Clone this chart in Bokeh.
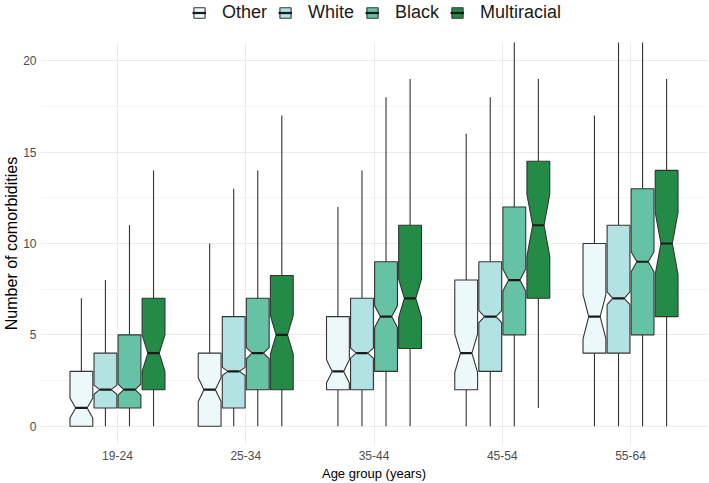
import numpy as np
from bokeh.plotting import figure
from bokeh.layouts import column
from bokeh.models import Range1d, FixedTicker, Legend, LegendItem, CustomJSTickFormatter
from bokeh.embed import file_html
from bokeh.resources import INLINE

# ---------------- data ----------------
age_groups = ["19-24", "25-34", "35-44", "45-54", "55-64"]
races = ["Other", "White", "Black", "Multiracial"]
colors = ["#EDF8FB", "#B2E2E2", "#66C2A4", "#238B45"]

other_lower = [0, 0, 0, 0, 0]
other_q1 = [0, 0, 2, 2, 4]
other_median = [1, 2, 3, 4, 6]
other_q3 = [3, 4, 6, 8, 10]
other_upper = [7, 10, 12, 16, 17]
other_notch = [0.55, 0.65, 0.64, 1.05, 1.2]

white_lower = [0, 0, 0, 0, 0]
white_q1 = [1, 1, 2, 3, 4]
white_median = [2, 3, 4, 6, 7]
white_q3 = [4, 6, 7, 9, 11]
white_upper = [8, 13, 14, 18, 23]
white_notch = [0.25, 0.22, 0.27, 0.33, 0.35]

black_lower = [0, 0, 0, 0, 0]
black_q1 = [1, 2, 3, 5, 5]
black_median = [2, 4, 6, 8, 9]
black_q3 = [5, 7, 9, 12, 13]
black_upper = [11, 14, 18, 22, 24]
black_notch = [0.3, 0.3, 0.6, 0.6, 0.55]

multi_lower = [0, 0, 0, 1, 0]
multi_q1 = [2, 2, 4.25, 7, 6]
multi_median = [4, 5, 7, 11, 10]
multi_q3 = [7, 8.25, 11, 14.5, 14]
multi_upper = [14, 17, 19, 19, 19]
multi_notch = [1.0, 1.05, 1.05, 1.7, 1.7]

y_ticks = [0, 5, 10, 15, 20]
y_minor = [2.5, 7.5, 12.5, 17.5]

series = [
    (other_lower, other_q1, other_median, other_q3, other_upper, other_notch),
    (white_lower, white_q1, white_median, white_q3, white_upper, white_notch),
    (black_lower, black_q1, black_median, black_q3, black_upper, black_notch),
    (multi_lower, multi_q1, multi_median, multi_q3, multi_upper, multi_notch),
]

FONT = "Liberation Sans"
LEGEND_H = 42

# ---------------- main plot ----------------
p = figure(width=709, height=483 - LEGEND_H, output_backend="svg", toolbar_location=None,
           x_range=Range1d(0.4, 5.6), y_range=Range1d(-1, 21),
           min_border_left=38, min_border_right=2, min_border_top=0,
           min_border_bottom=0)
p.outline_line_color = None
p.background_fill_color = "white"

p.xaxis.ticker = FixedTicker(ticks=[1, 2, 3, 4, 5])
p.xaxis.formatter = CustomJSTickFormatter(
    args=dict(labels=age_groups),
    code="const i = Math.round(tick) - 1; return (i >= 0 && i < labels.length) ? labels[i] : '';")
p.yaxis.ticker = FixedTicker(ticks=y_ticks, minor_ticks=y_minor)
p.xgrid.grid_line_color = "#EBEBEB"
p.xgrid.grid_line_width = 1
p.ygrid.grid_line_color = "#EBEBEB"
p.ygrid.grid_line_width = 1
p.ygrid.minor_grid_line_color = "#F2F2F2"
p.ygrid.minor_grid_line_width = 0.8

for ax in (p.xaxis, p.yaxis):
    ax.axis_line_color = None
    ax.major_tick_line_color = None
    ax.minor_tick_line_color = None
    ax.major_tick_out = 0
    ax.major_tick_in = 0
    ax.minor_tick_out = 0
    ax.minor_tick_in = 0
    ax.major_label_text_font = FONT
    ax.major_label_text_font_size = "12px"
    ax.major_label_text_color = "#4D4D4D"
    ax.axis_label_text_font = FONT
    ax.axis_label_text_font_style = "normal"
    ax.axis_label_text_color = "#000000"

p.xaxis.axis_label = "Age group (years)"
p.xaxis.axis_label_text_font_size = "13px"
p.xaxis.major_label_standoff = 6
p.xaxis.axis_label_standoff = 3
p.yaxis.axis_label = "Number of comorbidities"
p.yaxis.axis_label_text_font_size = "16px"
p.yaxis.major_label_standoff = 4
p.yaxis.axis_label_standoff = 0

# ---------------- legend strip ----------------
pl = figure(width=709, height=LEGEND_H, output_backend="svg", toolbar_location=None,
            x_range=Range1d(-20, -19), y_range=Range1d(-20, -19),
            x_axis_type=None, y_axis_type=None,
            min_border_left=0, min_border_right=0, min_border_top=0, min_border_bottom=0)
pl.outline_line_color = None
pl.xgrid.visible = False
pl.ygrid.visible = False

step = 0.1875
half_w = 0.089
indent = 0.5 * half_w
centers = np.arange(1, len(age_groups) + 1, dtype=float)

items = []
for j, (name, col, (lo, q1, med, q3, up, nh)) in enumerate(zip(races, colors, series)):
    lo = np.array(lo, float); q1 = np.array(q1, float); med = np.array(med, float)
    q3 = np.array(q3, float); up = np.array(up, float); nh = np.array(nh, float)
    xc = centers + (j - 1.5) * step
    xmin = xc - half_w
    xmax = xc + half_w
    nu = med + nh
    nl = med - nh
    xs = [[float(v) for v in (a, a, a + indent, a, a, b, b, b - indent, b, b)]
          for a, b in zip(xmin, xmax)]
    ys = [[float(v) for v in (t, u, m, l, bq, bq, l, m, u, t)]
          for t, u, m, l, bq in zip(q3, nu, med, nl, q1)]
    box_style = dict(fill_color=col, line_color="#333333", line_width=1.1)
    med_style = dict(line_color="#1A1A1A", line_width=2.2)
    p.segment(x0=xc, y0=q3, x1=xc, y1=up, line_color="#333333", line_width=1.1)
    p.segment(x0=xc, y0=q1, x1=xc, y1=lo, line_color="#333333", line_width=1.1)
    p.patches(xs=xs, ys=ys, **box_style)
    p.segment(x0=xmin + indent, y0=med, x1=xmax - indent, y1=med, **med_style)
    # same glyphs in the legend strip (outside its visible range) to feed the legend keys
    lb = pl.patches(xs=xs, ys=ys, **box_style)
    lm = pl.segment(x0=xmin + indent, y0=med, x1=xmax - indent, y1=med, **med_style)
    items.append(LegendItem(label=name, renderers=[lb, lm]))

legend = Legend(items=items, orientation="horizontal", location=(152, 19),
                label_text_font=FONT, label_text_font_size="18px",
                label_text_color="#1A1A1A", glyph_width=14, glyph_height=13,
                label_standoff=16, spacing=11, padding=0, margin=0,
                border_line_color=None, background_fill_alpha=0)
pl.add_layout(legend)

layout = column(pl, p, spacing=0)
open("out.html", "w").write(file_html(layout, INLINE))
